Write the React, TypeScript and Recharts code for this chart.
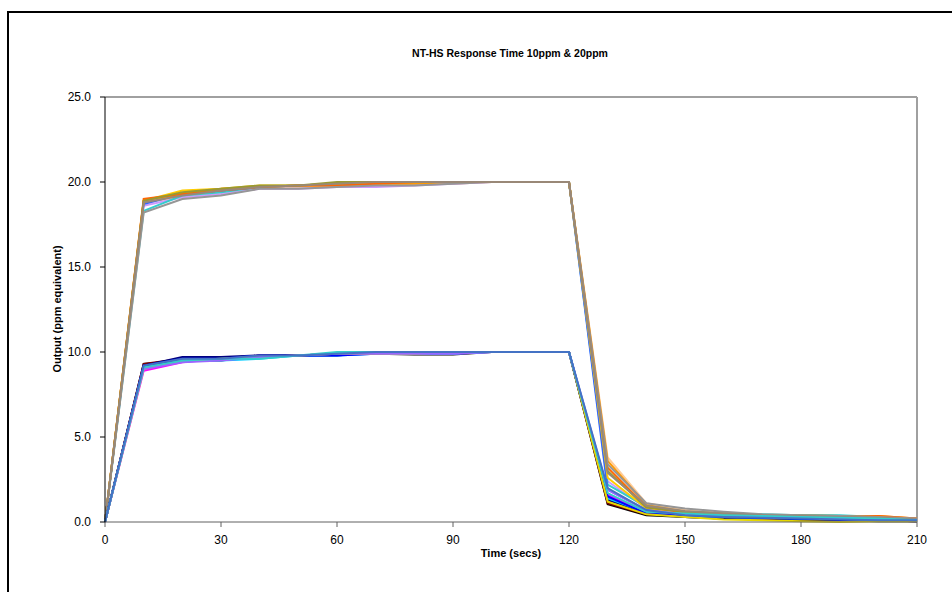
import { LineChart, Line, XAxis, YAxis, ReferenceLine } from 'recharts';

// sample times (secs)
const time = [0, 10, 20, 30, 40, 50, 60, 70, 80, 90, 100, 110, 120, 130, 140, 150, 160, 170, 180, 190, 200, 210];

// 10ppm runs
const r10_1 = [0, 9.3, 9.5, 9.5, 9.8, 9.8, 9.9, 9.9, 9.85, 9.85, 10, 10, 10, 1.05, 0.4, 0.3, 0.2, 0.15, 0.1, 0.1, 0.05, 0.05];
const r10_2 = [0, 9.3, 9.6, 9.6, 9.8, 9.8, 9.9, 10, 10, 10, 10, 10, 10, 1.1, 0.45, 0.35, 0.25, 0.2, 0.15, 0.1, 0.1, 0.05];
const r10_3 = [0, 8.9, 9.4, 9.6, 9.7, 9.8, 9.9, 9.9, 9.9, 9.9, 10, 10, 10, 1.6, 0.6, 0.4, 0.3, 0.2, 0.2, 0.15, 0.1, 0.1];
const r10_4 = [0, 9.2, 9.7, 9.7, 9.8, 9.8, 9.8, 10, 10, 10, 10, 10, 10, 1.3, 0.5, 0.3, 0.2, 0.2, 0.15, 0.1, 0.1, 0.05];
const r10_5 = [0, 9.1, 9.5, 9.5, 9.6, 9.8, 9.8, 9.9, 9.9, 9.9, 10, 10, 10, 1.4, 0.55, 0.35, 0.3, 0.25, 0.2, 0.2, 0.15, 0.1];
const r10_6 = [0, 9.2, 9.6, 9.6, 9.8, 9.8, 9.8, 9.9, 10, 10, 10, 10, 10, 1.5, 0.5, 0.4, 0.3, 0.25, 0.2, 0.15, 0.1, 0.05];
const r10_7 = [0, 9.0, 9.5, 9.6, 9.7, 9.8, 9.9, 9.9, 9.9, 10, 10, 10, 10, 1.2, 0.45, 0.3, 0.15, 0.1, 0.05, 0.0, 0.05, 0.05];
const r10_8 = [0, 9.0, 9.4, 9.5, 9.7, 9.8, 9.9, 9.9, 9.9, 9.9, 10, 10, 10, 1.9, 0.7, 0.45, 0.35, 0.3, 0.25, 0.2, 0.15, 0.1];
const r10_9 = [0, 9.1, 9.5, 9.6, 9.6, 9.8, 10, 10, 10, 10, 10, 10, 10, 1.7, 0.6, 0.5, 0.4, 0.35, 0.3, 0.25, 0.2, 0.1];
const r10_10 = [0, 9.2, 9.6, 9.6, 9.8, 9.8, 9.9, 10, 10, 10, 10, 10, 10, 2.0, 0.7, 0.4, 0.3, 0.25, 0.2, 0.15, 0.1, 0.1];

// 20ppm runs
const r20_1 = [0, 18.8, 19.1, 19.4, 19.6, 19.7, 19.8, 19.8, 19.9, 19.9, 20, 20, 20, 3.8, 1.1, 0.7, 0.5, 0.4, 0.35, 0.3, 0.25, 0.15];
const r20_2 = [0, 18.6, 19.1, 19.3, 19.6, 19.6, 19.7, 19.7, 19.8, 19.9, 20, 20, 20, 2.4, 0.8, 0.5, 0.4, 0.3, 0.3, 0.25, 0.2, 0.15];
const r20_3 = [0, 18.3, 19.2, 19.4, 19.7, 19.8, 19.9, 19.9, 20, 20, 20, 20, 20, 2.2, 0.9, 0.6, 0.5, 0.45, 0.4, 0.4, 0.3, 0.15];
const r20_4 = [0, 18.7, 19.3, 19.5, 19.7, 19.8, 19.9, 20, 20, 20, 20, 20, 20, 1.9, 0.7, 0.5, 0.4, 0.3, 0.3, 0.25, 0.2, 0.15];
const r20_5 = [0, 18.9, 19.5, 19.6, 19.8, 19.8, 19.9, 19.9, 20, 20, 20, 20, 20, 2.6, 0.8, 0.45, 0.3, 0.2, 0.15, 0.1, 0.1, 0.1];
const r20_6 = [0, 18.9, 19.3, 19.6, 19.7, 19.8, 19.8, 19.9, 19.9, 20, 20, 20, 20, 3.6, 1.0, 0.6, 0.45, 0.35, 0.3, 0.3, 0.35, 0.2];
const r20_7 = [0, 19.0, 19.3, 19.5, 19.7, 19.8, 19.8, 19.9, 20, 20, 20, 20, 20, 3.2, 0.9, 0.55, 0.4, 0.35, 0.3, 0.3, 0.35, 0.2];
const r20_8 = [0, 18.9, 19.4, 19.6, 19.8, 19.8, 20, 20, 20, 20, 20, 20, 20, 3.0, 0.85, 0.6, 0.5, 0.4, 0.4, 0.35, 0.25, 0.15];
const r20_9 = [0, 18.2, 19.0, 19.2, 19.6, 19.6, 19.7, 19.8, 19.8, 19.9, 20, 20, 20, 3.4, 1.1, 0.8, 0.6, 0.45, 0.4, 0.35, 0.3, 0.2];
const r20_10 = [0, 18.8, 19.2, 19.5, 19.7, 19.8, 19.9, 20, 20, 20, 20, 20, 20, 2.9, 0.95, 0.65, 0.5, 0.4, 0.35, 0.3, 0.25, 0.15];

const runs20 = [r20_1, r20_2, r20_3, r20_4, r20_5, r20_6, r20_7, r20_8, r20_9, r20_10];
const runs10 = [r10_1, r10_2, r10_3, r10_4, r10_5, r10_6, r10_7, r10_8, r10_9, r10_10];

const colors20 = ['#FFCC99', '#CC99FF', '#33CCCC', '#3366FF', '#FFCC00', '#FF9900', '#FF6600', '#999933', '#969696', '#998877'];
const colors10 = ['#000000', '#800000', '#FF00FF', '#000080', '#00CCFF', '#0000FF', '#E6D800', '#9966FF', '#33CCCC', '#4472C4'];

const xTicks = [0, 30, 60, 90, 120, 150, 180, 210];
const yTicks = [0, 5, 10, 15, 20, 25];

const data = time.map((t, i) => {
  const row: Record<string, number> = { t };
  runs20.forEach((r, k) => (row['a' + k] = r[i]));
  runs10.forEach((r, k) => (row['b' + k] = r[i]));
  return row;
});

const font = 'Liberation Sans, Arial, sans-serif';

export default function App() {
  return (
    <div style={{ position: 'absolute', left: 0, top: 0, width: 952, height: 592, fontFamily: font, overflow: 'hidden' }}>
      <div style={{ position: 'absolute', left: 7, top: 11, width: 1000, height: 700, border: '2px solid #000', boxSizing: 'border-box' }} />
      <div style={{ position: 'absolute', left: 0, top: 47, width: 1020, textAlign: 'center', fontWeight: 'bold', fontSize: 10.5 }}>
        NT-HS Response Time 10ppm &amp; 20ppm
      </div>
      <div style={{ position: 'absolute', left: 0, top: 0 }}>
        <LineChart width={952} height={592} data={data} margin={{ top: 97, right: 35, bottom: 40, left: 45 }}>
          <XAxis
            dataKey="t"
            type="number"
            domain={[0, 210]}
            ticks={xTicks}
            interval={0}
            tickSize={5}
            tickMargin={8}
            height={30}
            stroke="#606060"
            tick={{ fill: '#000', fontSize: 12, fontFamily: font }}
          />
          <YAxis
            type="number"
            domain={[0, 25]}
            ticks={yTicks}
            interval={0}
            width={60}
            tickSize={5}
            tickMargin={9}
            stroke="#000"
            tickFormatter={(v: number) => v.toFixed(1)}
            tick={{ fill: '#000', fontSize: 12, fontFamily: font }}
          />
          <ReferenceLine y={25} stroke="#a0a0a0" strokeWidth={2} />
          <ReferenceLine x={210} stroke="#a0a0a0" strokeWidth={2} />
          {runs20.map((_, k) => (
            <Line key={'a' + k} dataKey={'a' + k} stroke={colors20[k]} strokeWidth={2} dot={false} isAnimationActive={false} />
          ))}
          {runs10.map((_, k) => (
            <Line key={'b' + k} dataKey={'b' + k} stroke={colors10[k]} strokeWidth={2} dot={false} isAnimationActive={false} />
          ))}
        </LineChart>
      </div>
      <div style={{ position: 'absolute', left: 105, top: 547, width: 812, textAlign: 'center', fontWeight: 'bold', fontSize: 11 }}>
        Time (secs)
      </div>
      <div style={{ position: 'absolute', left: 57, top: 310, width: 0, height: 0 }}>
        <div style={{ position: 'absolute', left: -100, top: -7, width: 200, textAlign: 'center', fontWeight: 'bold', fontSize: 11, whiteSpace: 'nowrap', transform: 'rotate(-90deg)' }}>
          Output (ppm equivalent)
        </div>
      </div>
    </div>
  );
}
